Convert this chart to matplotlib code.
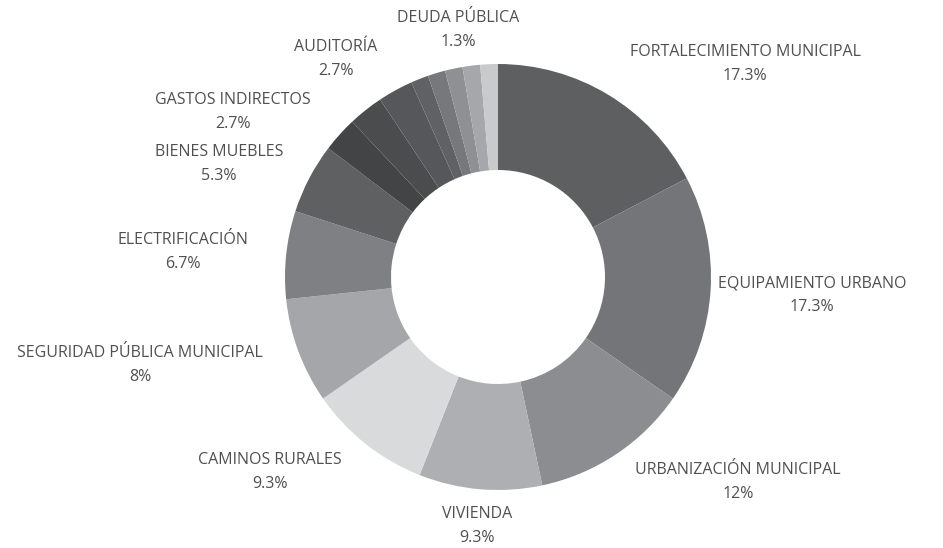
import matplotlib
matplotlib.use("Agg")
import matplotlib.pyplot as plt

# data (units of 1/75 of total, shown as percentages)
labels = ["FORTALECIMIENTO MUNICIPAL", "EQUIPAMIENTO URBANO", "URBANIZACIÓN MUNICIPAL",
          "VIVIENDA", "CAMINOS RURALES", "SEGURIDAD PÚBLICA MUNICIPAL", "ELECTRIFICACIÓN",
          "BIENES MUEBLES", "GASTOS INDIRECTOS", "AUDITORÍA", None, None, None, None, None,
          "DEUDA PÚBLICA"]
values = [13, 13, 9, 7, 7, 6, 5, 4, 2, 2, 2, 1, 1, 1, 1, 1]
pct_text = ["17.3%", "17.3%", "12%", "9.3%", "9.3%", "8%", "6.7%", "5.3%", "2.7%", "2.7%",
            None, None, None, None, None, "1.3%"]

colors = ["#5e5f61", "#747579", "#8c8d90", "#aeafb2", "#d9dadc", "#a5a6a9", "#7f8084",
          "#5f6062", "#434446", "#4b4c4e", "#56575a", "#606164", "#77787b", "#8f9093",
          "#a6a7aa", "#c9cacc"]

# label anchor positions in pixel layout (x, y from top)
label_pos = [(745, 52), (812, 283), (738, 470), (477, 514), (270, 460), (140, 353),
             (183, 240), (219, 152), (233, 100), (336, 47), None, None, None, None, None,
             (458, 18)]

W, H = 943, 548
fig = plt.figure(figsize=(W / 100, H / 100), dpi=100)
ax = fig.add_axes([0, 0, 1, 1])
ax.set_xlim(0, W)
ax.set_ylim(0, H)
ax.set_aspect("equal")
ax.axis("off")

cx, cy, R, r_in = 498, H - 277, 213, 107
ax.pie(values, colors=colors, startangle=90, counterclock=False, center=(cx, cy),
       radius=R, wedgeprops=dict(width=R - r_in, linewidth=0), frame=True)
ax.set_xlim(0, W)
ax.set_ylim(0, H)
ax.axis("off")

font = dict(family=["Open Sans", "DejaVu Sans"], fontsize=11.5, color="#505050",
            fontweight="normal", ha="center", va="center")
for lab, p, pos in zip(labels, pct_text, label_pos):
    if lab is None:
        continue
    x, y = pos
    ax.text(x, H - y, lab, **font)
    ax.text(x, H - y - 24, p, **font)

fig.savefig("out.png", dpi=100)
